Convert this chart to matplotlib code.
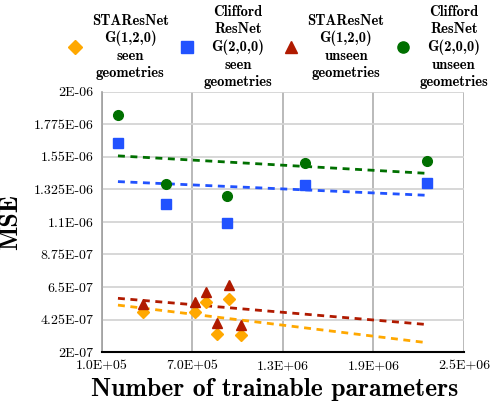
import matplotlib
matplotlib.use('Agg')
import matplotlib.pyplot as plt

# number of trainable parameters / MSE for each model
sta_seen_x = [3.7e5, 7.2e5, 7.9e5, 8.6e5, 9.4e5, 1.02e6]
sta_seen_y = [4.77e-7, 4.77e-7, 5.46e-7, 3.25e-7, 5.65e-7, 3.2e-7]

cliff_seen_x = [2.06e5, 5.23e5, 9.26e5, 1.447e6, 2.257e6]
cliff_seen_y = [1.647e-6, 1.221e-6, 1.095e-6, 1.354e-6, 1.372e-6]

sta_unseen_x = [3.7e5, 7.2e5, 7.9e5, 8.6e5, 9.4e5, 1.02e6]
sta_unseen_y = [5.32e-7, 5.44e-7, 6.17e-7, 4.03e-7, 6.64e-7, 3.87e-7]

cliff_unseen_x = [2.06e5, 5.23e5, 9.26e5, 1.447e6, 2.257e6]
cliff_unseen_y = [1.84e-6, 1.363e-6, 1.282e-6, 1.506e-6, 1.524e-6]

# linear trend lines (start / end)
trend_x = [2.06e5, 2.24e6]
trend_sta_seen = [5.25e-7, 2.67e-7]
trend_cliff_seen = [1.379e-6, 1.285e-6]
trend_sta_unseen = [5.72e-7, 3.92e-7]
trend_cliff_unseen = [1.557e-6, 1.437e-6]

xticks = [1.0e5, 7.0e5, 1.3e6, 1.9e6, 2.5e6]
xticklabels = ['1.0E+05', '7.0E+05', '1.3E+06', '1.9E+06', '2.5E+06']
yticks = [2e-7, 4.25e-7, 6.5e-7, 8.75e-7, 1.1e-6, 1.325e-6, 1.55e-6, 1.775e-6, 2e-6]
yticklabels = ['2E-07', '4.25E-07', '6.5E-07', '8.75E-07', '1.1E-06',
               '1.325E-06', '1.55E-06', '1.775E-06', '2E-06']

labels = ['STAResNet\nG(1,2,0)\nseen\ngeometries',
          'Clifford\nResNet\nG(2,0,0)\nseen\ngeometries',
          'STAResNet\nG(1,2,0)\nunseen\ngeometries',
          'Clifford\nResNet\nG(2,0,0)\nunseen\ngeometries']

orange = '#FFA800'
blue = '#2152FF'
red = '#B01A00'
green = '#007000'

fig = plt.figure(figsize=(4.95, 4.08), dpi=100)
ax = fig.add_axes([0.206, 0.137, 0.731, 0.638])

ax.plot(trend_x, trend_sta_seen, '--', color=orange, lw=2, dashes=(2.5, 2), zorder=2)
ax.plot(trend_x, trend_cliff_seen, '--', color=blue, lw=2, dashes=(2.5, 2), zorder=2)
ax.plot(trend_x, trend_sta_unseen, '--', color=red, lw=2, dashes=(2.5, 2), zorder=2)
ax.plot(trend_x, trend_cliff_unseen, '--', color=green, lw=2, dashes=(2.5, 2), zorder=2)

h1, = ax.plot(sta_seen_x, sta_seen_y, 'D', color=orange, ms=6.5, ls='none', zorder=3)
h2, = ax.plot(cliff_seen_x, cliff_seen_y, 's', color=blue, ms=7, ls='none', zorder=3)
h3, = ax.plot(sta_unseen_x, sta_unseen_y, '^', color=red, ms=7.5, ls='none', zorder=3)
h4, = ax.plot(cliff_unseen_x, cliff_unseen_y, 'o', color=green, ms=7, ls='none', zorder=3)

ax.set_xlim(1.0e5, 2.5e6)
ax.set_ylim(2e-7, 2e-6)
ax.set_xticks(xticks)
ax.set_xticklabels(xticklabels, family='cmr10', fontsize=10)
ax.set_yticks(yticks)
ax.set_yticklabels(yticklabels, family='cmr10', fontsize=10)
ax.tick_params(length=0, pad=6)

ax.yaxis.grid(True, color='#d4d4d4', lw=1.3)
ax.xaxis.grid(True, color='#b4b4b4', lw=1.3)
ax.set_axisbelow(True)
for s in ['top', 'right']:
    ax.spines[s].set_visible(False)
ax.spines['left'].set_color('#a0a0a0')
ax.spines['left'].set_linewidth(1.2)
ax.spines['bottom'].set_color('black')
ax.spines['bottom'].set_linewidth(1.5)

ax.set_xlabel('Number of trainable parameters', family='cmb10', fontsize=18.5)
ax.xaxis.set_label_coords(0.478, -0.1)
ax.set_ylabel('MSE', family='cmb10', fontsize=18.5, labelpad=8)

leg = fig.legend([h1, h2, h3, h4], labels, loc='center', bbox_to_anchor=(0.56, 0.885),
                 ncol=4, frameon=False, prop={'family': 'cmb10', 'size': 10.5},
                 handletextpad=0.55, columnspacing=0.65, handlelength=1.2, markerscale=1.15)
for t in leg.get_texts():
    t.set_multialignment('center')
    t.set_linespacing(1.27)

fig.savefig('out.png', dpi=100)
